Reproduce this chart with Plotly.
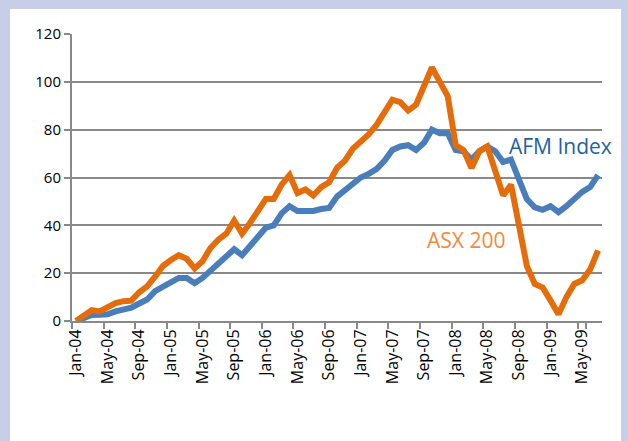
import plotly.graph_objects as go

month_abbr = ["Jan", "Feb", "Mar", "Apr", "May", "Jun",
              "Jul", "Aug", "Sep", "Oct", "Nov", "Dec"]
months = [f"{m}-{y:02d}" for y in range(4, 10) for m in month_abbr][:67]

afm_index = [0, 1.5, 2.5, 2.6, 2.8, 4, 5, 5.6, 7.3, 9,
             12.5, 14.5, 16.5, 18, 18, 15.8, 18, 21, 24, 26.5,
             30, 27.5, 31.5, 35, 39, 40, 45, 48, 46, 46,
             46, 46.8, 47.3, 52, 54.5, 57, 60, 61.5, 63.5, 67,
             71.5, 73, 73.5, 71.5, 74.5, 80, 78.5, 78.5, 71.5, 71,
             67.5, 71, 73, 71, 66.5, 67.5, 59.5, 51, 47.5, 46.5,
             48, 45.5, 48, 51, 54, 56, 61]

asx_200 = [0, 2.5, 4.5, 4, 5.5, 7.5, 8.3, 8.5, 12, 14.5,
           18.5, 23, 25.5, 27.5, 26, 22, 25, 30.5, 34, 36.5,
           42, 36.5, 41, 45.5, 51, 51, 57, 61, 53.5, 55,
           52.5, 56, 58, 64, 67, 72, 75, 78, 82, 87.5,
           92.5, 91.5, 88, 90.5, 99, 106, 100, 94, 73.5, 71.5,
           64, 71, 73, 63, 52.5, 57, 40, 23, 15.5, 14,
           8.5, 2.8, 10, 15.5, 17, 21.5, 29.5]

tick_labels = months[::4]
y_ticks = [0, 20, 40, 60, 80, 100, 120]

GRID = "#898989"
BLUE = "#4A7EBB"
ORANGE = "#E46C0A"

fig = go.Figure()
fig.add_trace(go.Scatter(x=months, y=afm_index, mode="lines",
                         line=dict(color=BLUE, width=6), name="AFM Index"))
fig.add_trace(go.Scatter(x=months, y=asx_200, mode="lines",
                         line=dict(color=ORANGE, width=6), name="ASX 200"))

fig.add_annotation(x=61.3, y=73, xref="x", yref="y", text="AFM Index",
                   showarrow=False, font=dict(family="Open Sans", size=21, color="#1F5FA6"))
fig.add_annotation(x=49.3, y=34, xref="x", yref="y", text="ASX 200",
                   showarrow=False, font=dict(family="Open Sans", size=21, color="#F08A3C"))

# white inner panel over the lavender frame
fig.add_shape(type="rect", xref="paper", yref="paper",
              x0=(10 - 72) / 530, x1=(621 - 72) / 530,
              y0=(321 - 445) / 287, y1=(321 - 9) / 287,
              fillcolor="white", line=dict(width=0), layer="below")

fig.update_layout(
    width=628, height=441,
    margin=dict(l=72, r=26, t=34, b=120),
    paper_bgcolor="#C6CEE8",
    plot_bgcolor="white",
    showlegend=False,
    font=dict(family="Open Sans", color="#000000"),
)
fig.update_xaxes(
    type="category", categoryorder="array", categoryarray=months,
    range=[-0.5, len(months) - 0.5],
    tickmode="array", tickvals=tick_labels, ticktext=tick_labels,
    tickson="boundaries", ticks="outside", ticklen=6, tickwidth=2, tickcolor=GRID,
    tickangle=-90, tickfont=dict(size=16, family="Open Sans", color="#000"),
    showgrid=False, showline=True, linecolor=GRID, linewidth=2, zeroline=False,
)
fig.update_yaxes(
    range=[0, 120], tickmode="array", tickvals=y_ticks,
    ticks="outside", ticklen=6, tickwidth=2, tickcolor=GRID,
    tickfont=dict(size=15, family="Open Sans", color="#000"),
    showgrid=True, gridcolor=GRID, gridwidth=2,
    showline=True, linecolor=GRID, linewidth=2, zeroline=False,
)

fig.write_html(
    "out.html",
    config={"displayModeBar": False},
    post_script="document.body.style.margin='0px';document.body.style.overflow='hidden';",
)
